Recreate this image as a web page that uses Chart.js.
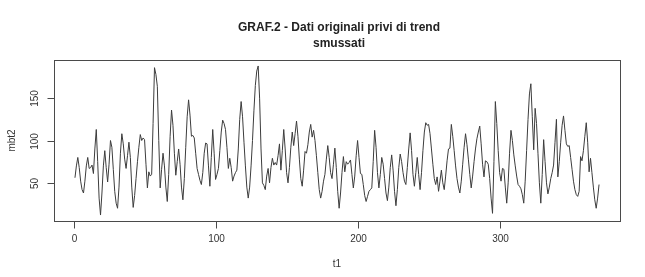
<!DOCTYPE html>
<html>
<head>
<meta charset="utf-8">
<script src="https://cdn.jsdelivr.net/npm/chart.js@4"></script>
<style>
  html, body { margin: 0; padding: 0; background: #fff; }
  canvas { display: block; }
</style>
</head>
<body>
<canvas id="grafChart" width="645" height="277"></canvas>
<script>
// smoothed series, one value per t1 = 1..370
const mbt2 = [
    56, 70, 80, 68, 52, 42, 38, 52, 70, 80,
    67, 68, 71, 61, 90, 113, 75, 32, 12, 38,
    70, 88, 68, 51, 72, 100, 92, 66, 40, 26,
    20, 45, 85, 108, 96, 78, 67, 82, 98, 80,
    45, 21, 35, 55, 75, 92, 107, 100, 103, 101,
    72, 44, 63, 58, 60, 120, 186, 178, 164, 100,
    44, 66, 85, 70, 45, 28, 60, 105, 136, 118,
    85, 59, 75, 90, 72, 45, 30, 55, 92, 128,
    148, 130, 105, 106, 103, 85, 67, 60, 53, 48,
    62, 85, 97, 96, 70, 46, 80, 113, 85, 54,
    60, 67, 88, 110, 124, 120, 113, 92, 67, 79,
    68, 52, 58, 62, 65, 90, 125, 146, 128, 98,
    70, 45, 32, 45, 70, 100, 135, 165, 182, 188,
    150, 90, 50, 47, 42, 58, 67, 50, 68, 79,
    71, 74, 71, 82, 96, 65, 88, 113, 90, 62,
    50, 68, 92, 110, 94, 108, 123, 105, 78, 55,
    46, 65, 87, 85, 95, 110, 119, 104, 112, 100,
    82, 62, 42, 32, 40, 52, 60, 78, 94, 80,
    62, 55, 72, 91, 68, 40, 20, 38, 62, 81,
    63, 75, 72, 74, 77, 60, 44, 58, 82, 100,
    80, 61, 60, 48, 35, 28, 34, 40, 42, 44,
    75, 112, 92, 62, 44, 60, 80, 72, 55, 38,
    29, 45, 68, 83, 65, 40, 23, 42, 68, 84,
    75, 62, 52, 48, 68, 90, 109, 88, 60, 46,
    62, 80, 60, 42, 62, 88, 110, 121, 118, 119,
    108, 90, 72, 55, 48, 57, 40, 52, 65, 50,
    42, 58, 76, 90, 91, 119, 105, 88, 70, 55,
    45, 38, 52, 72, 92, 108, 95, 78, 60, 44,
    58, 75, 90, 102, 110, 117, 96, 72, 57, 76,
    75, 72, 55, 32, 14, 75, 146, 120, 88, 62,
    52, 67, 66, 45, 26, 50, 85, 112, 100, 83,
    70, 58, 48, 46, 43, 36, 26, 52, 88, 125,
    155, 167, 128, 89, 138, 120, 85, 50, 26, 60,
    101, 75, 50, 37, 45, 55, 62, 71, 98, 125,
    57, 75, 98, 118, 129, 112, 96, 93, 94, 80,
    66, 52, 42, 36, 34, 40, 81, 76, 88, 105,
    121, 98, 63, 79, 62, 45, 30, 20, 32, 48
];
const t1 = mbt2.map((v, i) => i + 1);

const xTicks = [0, 100, 200, 300];
const yTicks = [50, 100, 150];
const titleLines = ['GRAF.2 - Dati originali privi di trend', 'smussati'];
const xTitle = 't1';
const yTitle = 'mbt2';

// R style axis range: data range stretched 4% on each side
function rRange(arr) {
    const lo = Math.min(...arr), hi = Math.max(...arr);
    const pad = (hi - lo) * 0.04;
    return [lo - pad, hi + pad];
}
const [xMin, xMax] = rRange(t1);
const [yMin, yMax] = rRange(mbt2);

const FONT = '"Liberation Sans", Arial, sans-serif';

const rAxes = {
    id: 'rAxes',
    afterDraw(chart) {
        const { ctx, chartArea: a, scales: { x, y } } = chart;
        ctx.save();
        ctx.strokeStyle = '#4a4a4a';
        ctx.lineWidth = 1;
        ctx.strokeRect(Math.round(a.left) + 0.5, Math.round(a.top) + 0.5,
            Math.round(a.right - a.left), Math.round(a.bottom - a.top));

        ctx.fillStyle = '#333';
        ctx.font = '10px ' + FONT;
        ctx.textAlign = 'center';
        ctx.textBaseline = 'middle';

        const bottom = Math.round(a.bottom) + 0.5;
        xTicks.forEach(v => {
            const px = Math.round(x.getPixelForValue(v)) + 0.5;
            ctx.beginPath();
            ctx.moveTo(px, bottom);
            ctx.lineTo(px, bottom + 7);
            ctx.stroke();
            ctx.fillText(String(v), px, a.bottom + 18);
        });

        const left = Math.round(a.left) + 0.5;
        yTicks.forEach(v => {
            const py = Math.round(y.getPixelForValue(v)) + 0.5;
            ctx.beginPath();
            ctx.moveTo(left - 7, py);
            ctx.lineTo(left, py);
            ctx.stroke();
            ctx.save();
            ctx.translate(a.left - 19, py);
            ctx.rotate(-Math.PI / 2);
            ctx.fillText(String(v), 0, 0);
            ctx.restore();
        });

        ctx.font = '10px ' + FONT;
        ctx.fillText(xTitle, (a.left + a.right) / 2, 264);
        ctx.save();
        ctx.translate(12, (a.top + a.bottom) / 2);
        ctx.rotate(-Math.PI / 2);
        ctx.fillText(yTitle, 0, 0);
        ctx.restore();

        ctx.fillStyle = '#222';
        ctx.font = 'bold 12px ' + FONT;
        ctx.fillText(titleLines[0], (a.left + a.right) / 2 + 2, 28);
        ctx.fillText(titleLines[1], (a.left + a.right) / 2 + 2, 44);
        ctx.restore();
    }
};

const ctx = document.getElementById('grafChart').getContext('2d');
const chart = new Chart(ctx, {
    type: 'line',
    data: {
        datasets: [
            {
                label: yTitle,
                data: t1.map((t, i) => ({ x: t, y: mbt2[i] })),
                borderColor: '#3c3c3c',
                borderWidth: 1,
                pointRadius: 0,
                tension: 0,
                fill: false
            }
        ]
    },
    options: {
        responsive: false,
        animation: false,
        devicePixelRatio: 1,
        layout: {
            padding: { left: 54, right: 25, top: 60, bottom: 56 }
        },
        scales: {
            x: { type: 'linear', min: xMin, max: xMax, display: false },
            y: { type: 'linear', min: yMin, max: yMax, display: false }
        },
        plugins: {
            legend: { display: false },
            title: { display: false },
            tooltip: { enabled: false }
        }
    },
    plugins: [rAxes]
});
</script>
</body>
</html>
